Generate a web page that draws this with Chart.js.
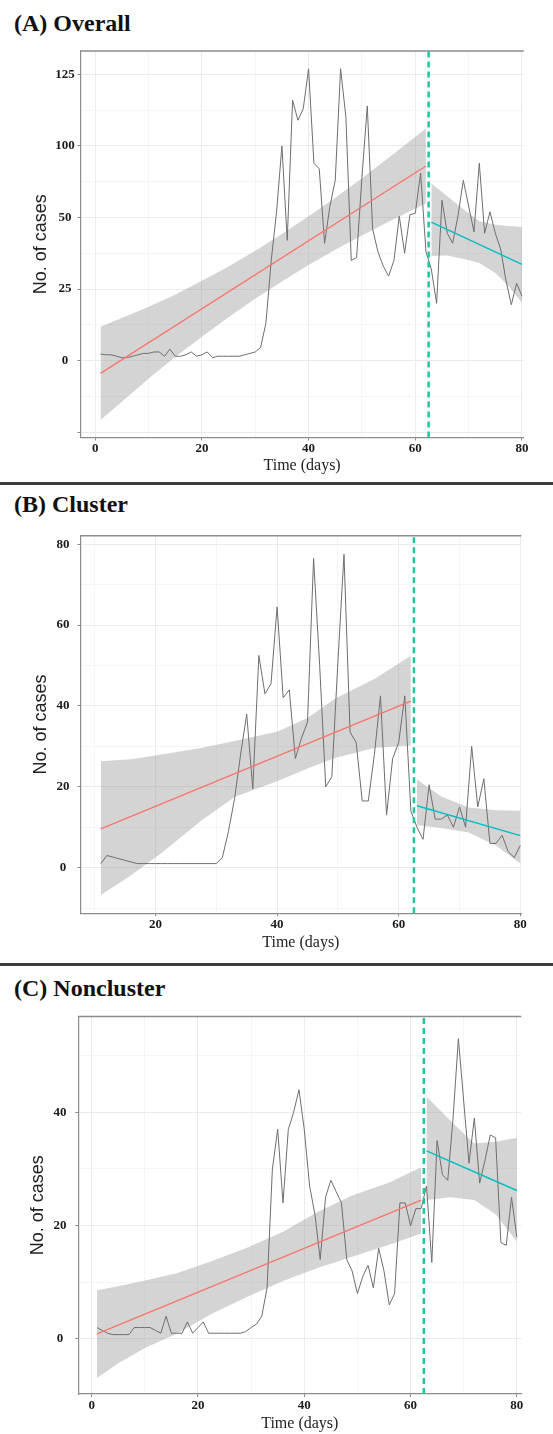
<!DOCTYPE html>
<html lang="en">
<head>
  <meta charset="UTF-8" />
  <title>Interrupted time series – Overall / Cluster / Noncluster</title>
  <script src="https://cdn.jsdelivr.net/npm/chart.js@4"></script>
  <style>
    body { margin: 0; background: #fff; }
    #page { position: relative; width: 553px; height: 1434px; overflow: hidden; background: #fff; }
    .panel-title {
      position: absolute; left: 14px; margin: 0;
      font: bold 24px "Liberation Serif", "Times New Roman", serif;
      line-height: 24px; color: #111; white-space: nowrap;
    }
    .rule { position: absolute; left: 0; width: 553px; height: 3px; background: #3d3d3d; }
    canvas { position: absolute; left: 0; }
  </style>
</head>
<body>
<div id="page">
  <h2 class="panel-title" style="top:11px">(A) Overall</h2>
  <canvas id="chartA" width="553" height="440" style="top:40px"></canvas>

  <div class="rule" style="top:482px"></div>
  <h2 class="panel-title" style="top:492px">(B) Cluster</h2>
  <canvas id="chartB" width="553" height="440" style="top:520px"></canvas>

  <div class="rule" style="top:963px"></div>
  <h2 class="panel-title" style="top:976px">(C) Noncluster</h2>
  <canvas id="chartC" width="553" height="434" style="top:1000px"></canvas>
</div>

<script>
// ---- data ----
const cutDay = 62.5;

// daily counts, panel A and C start on day 1, panel B on day 11
const daysA = Array.from({ length: 80 }, (_, i) => i + 1);
const daysB = daysA.slice(10);
const daysC = daysA;

const casesA = [2.3, 2, 2, 1.5, 1, 1, 1.5, 2, 2.5, 2.5,
  3, 3, 1.5, 4, 1.5, 1.5, 2, 3, 1.5, 2,
  3, 1, 1.5, 1.5, 1.5, 1.5, 1.5, 2, 2.5, 3,
  4.5, 13, 35, 52, 75, 42, 91, 84, 88, 102,
  69, 67, 41, 54, 63, 102, 85, 35, 36, 64,
  89, 46, 38, 33, 29.5, 35, 50.5, 37.5, 51, 51.5,
  65.5, 38, 32, 20, 56, 44.5, 41, 50.5, 63, 54,
  45, 69, 44.5, 52, 44.5, 39, 28, 19.5, 27, 22.5];

const casesB = [1, 3, 2.6, 2.2, 1.8, 1.4, 1, 1, 1, 1,
  1, 1, 1, 1, 1, 1, 1, 1, 1, 1,
  2.5, 9, 17, 28, 38, 19.5, 52.5, 43, 45.5, 64.5,
  42, 44, 27, 32, 36, 76.5, 50, 20, 22.5, 51,
  77.5, 33.5, 31, 16.5, 16.5, 28, 42.5, 13, 27, 31,
  42.5, 14, 10, 7, 20.5, 12, 12, 13, 10, 15,
  10, 30, 15, 22, 6, 6, 8, 4, 2.5, 5.5];

const casesC = [2, 1.5, 1, 0.75, 0.75, 0.75, 0.75, 2, 2, 2,
  2, 1.5, 1, 4, 1, 1, 1, 3, 1, 2,
  3, 1, 1, 1, 1, 1, 1, 1, 1.3, 2,
  2.6, 4, 9, 30, 37, 24, 37, 40, 44, 37,
  27, 22, 14, 25, 28, 26, 24, 14, 12, 8,
  11, 13, 9, 16, 12, 6, 8, 24, 24, 20,
  23, 23, 27, 13.5, 35, 29, 28, 39, 53, 42,
  31, 39, 27.5, 31.5, 36, 35.5, 17, 16.5, 25, 18];

// fitted segments (pre = red, post = cyan) and their confidence bands
const fitPreDaysA = [1, 62], fitPreA = [-4.5, 68];
const fitPostDaysA = [63, 80], fitPostA = [48.4, 33.6];
const bandPreDaysA = [1, 5, 10, 15, 20, 25, 30, 35, 40, 45, 50, 55, 62];
const bandPreLoA = [-20.8, -14.4, -6.4, 1.2, 8.3, 15.1, 21.6, 27.6, 33.4, 38.7, 43.7, 48.5, 54.9];
const bandPreHiA = [11.8, 14.9, 18.8, 23, 27.9, 32.9, 38.4, 44.2, 50.4, 56.9, 63.7, 70.9, 81.1];
const bandPostDaysA = [63, 66, 69.5, 72, 75, 77.5, 80];
const bandPostLoA = [36.5, 36.7, 35.3, 34.1, 30.6, 26, 20.2];
const bandPostHiA = [62, 57.4, 52.2, 48.7, 47.5, 47, 46.7];

const fitPreDaysB = [11, 62], fitPreB = [9.6, 41.2];
const fitPostDaysB = [63, 80], fitPostB = [15.3, 7.9];
const bandPreDaysB = [11, 16, 21, 27.5, 33, 40, 45, 49.5, 56, 62];
const bandPreLoB = [-6.8, -1.9, 3.6, 11.6, 17.5, 21.4, 24.5, 27.1, 29.6, 30.2];
const bandPreHiB = [26.3, 26.8, 28, 29.6, 31.3, 33.6, 37, 41.8, 46.7, 52.4];
const bandPostDaysB = [63, 67, 71.5, 76, 80];
const bandPostLoB = [10.5, 9.8, 8.7, 5.5, 1];
const bandPostHiB = [21.8, 17.6, 14.9, 14.2, 14.1];

const fitPreDaysC = [1, 62], fitPreC = [0.9, 24.5];
const fitPostDaysC = [63, 80], fitPostC = [33.2, 26.2];
const bandPreDaysC = [1, 5, 10, 16, 22.5, 29, 36, 42.5, 49, 56, 62];
const bandPreLoC = [-6.9, -4.3, -1.6, 0.9, 4.4, 7.3, 10.2, 12.5, 14.5, 16.6, 18.6];
const bandPreHiC = [8.6, 9.3, 10.3, 11.6, 13.7, 16, 18.9, 22.4, 25.3, 27.6, 30.3];
const bandPostDaysC = [63, 67.5, 72, 76, 80];
const bandPostLoC = [24.5, 25, 24.5, 22, 17.2];
const bandPostHiC = [42.8, 38.5, 34.5, 34.8, 35.5];

// tick positions and printed labels ('' = minor grid line only)
const xTicksA = [0, 10, 20, 30, 40, 50, 60, 70, 80];
const xLabelsA = ['0', '', '20', '', '40', '', '60', '', '80'];
const xTicksB = [10, 20, 30, 40, 50, 60, 70, 80];
const xLabelsB = ['', '20', '', '40', '', '60', '', '80'];
const xTicksC = xTicksA, xLabelsC = xLabelsA;

const yTicksA = [-25, -12.5, 0, 12.5, 25, 37.5, 50, 62.5, 75, 87.5, 100];
const yLabelsA = [' ', '', '0', '', '25', '', '50', '', '100', '', '125'];
const yTicksB = [-10, 0, 10, 20, 30, 40, 50, 60, 70, 80];
const yLabelsB = ['', '0', '', '20', '', '40', '', '60', '', '80'];
const yTicksC = [0, 10, 20, 30, 40, 50];
const yLabelsC = ['0', '', '20', '', '40', ''];

// ---- styles ----
const SERIF = '"Liberation Serif", "Times New Roman", serif';
const SANS = '"Liberation Sans", Arial, sans-serif';
const BAND = 'rgba(153,153,153,0.42)';
const RED = '#F8766D', CYAN = '#00BFC4', CUT = '#1FC6A0';
const AXIS = '#8c8c8c', GRID_MAJOR = '#EBEBEB', GRID_MINOR = '#F5F5F5';
const NONE = 'rgba(0,0,0,0)';

const pts = (xs, ys) => ys.map((y, i) => ({ x: xs[i], y }));

const topEdge = {
  id: 'topEdge',
  beforeDatasetsDraw(chart) {
    const { ctx, chartArea: a } = chart;
    ctx.save();
    ctx.strokeStyle = AXIS;
    ctx.lineWidth = 1.5;
    ctx.beginPath();
    ctx.moveTo(a.left, a.top);
    ctx.lineTo(a.right, a.top);
    ctx.stroke();
    ctx.restore();
  }
};

function drawPanel(id, p) {
  const flat = { pointRadius: 0, borderColor: NONE, borderWidth: 0, order: 5 };
  const datasets = [
    { ...flat, data: pts(p.bandPreDays, p.bandPreHi), fill: '+1', backgroundColor: BAND },
    { ...flat, data: pts(p.bandPreDays, p.bandPreLo), fill: false },
    { ...flat, data: pts(p.bandPostDays, p.bandPostHi), fill: '+1', backgroundColor: BAND },
    { ...flat, data: pts(p.bandPostDays, p.bandPostLo), fill: false },
    { data: pts(p.days, p.cases), borderColor: '#6e6e6e', borderWidth: 1, pointRadius: 0, tension: 0, fill: false, order: 4 },
    { data: pts(p.fitPreDays, p.fitPre), borderColor: RED, borderWidth: 1.4, pointRadius: 0, fill: false, order: 3 },
    { data: pts(p.fitPostDays, p.fitPost), borderColor: CYAN, borderWidth: 1.4, pointRadius: 0, fill: false, order: 3 },
    { data: pts([cutDay, cutDay], [p.yMin, p.yMax]), borderColor: CUT, borderWidth: 2.5, borderDash: [6, 4], pointRadius: 0, fill: false, order: 1 }
  ];

  const tickFont = { family: SERIF, weight: 'bold', size: 13 };

  new Chart(document.getElementById(id), {
    type: 'line',
    data: { datasets },
    plugins: [topEdge],
    options: {
      responsive: false,
      animation: false,
      devicePixelRatio: 1,
      events: [],
      layout: { padding: { top: p.padTop, right: p.padRight, left: 0, bottom: 0 } },
      plugins: { legend: { display: false }, tooltip: { enabled: false } },
      scales: {
        x: {
          type: 'linear', min: p.xMin, max: p.xMax,
          afterBuildTicks: s => { s.ticks = p.xTicks.map(v => ({ value: v })); },
          afterFit: s => { s.height = p.xAxisH; },
          grid: {
            color: c => p.xLabels[p.xTicks.indexOf(c.tick.value)] ? GRID_MAJOR : GRID_MINOR,
            tickColor: c => p.xLabels[p.xTicks.indexOf(c.tick.value)] ? AXIS : NONE,
            tickLength: 3, lineWidth: 1
          },
          border: { color: AXIS, width: 1.2 },
          ticks: {
            autoSkip: false, maxRotation: 0, padding: p.xTickPad,
            font: tickFont, color: '#1a1a1a',
            callback: (v, i) => p.xLabels[i]
          },
          title: {
            display: true, text: 'Time (days)', color: '#222',
            font: { family: SERIF, size: 16 },
            padding: { top: 0, bottom: p.xTitlePad }
          }
        },
        y: {
          type: 'linear', min: p.yMin, max: p.yMax,
          afterBuildTicks: s => { s.ticks = p.yTicks.map(v => ({ value: v })); },
          afterFit: s => { s.width = p.yAxisW; },
          grid: {
            color: c => p.yLabels[p.yTicks.indexOf(c.tick.value)] ? GRID_MAJOR : GRID_MINOR,
            tickColor: c => p.yLabels[p.yTicks.indexOf(c.tick.value)] ? AXIS : NONE,
            tickLength: 3, lineWidth: 1
          },
          border: { color: AXIS, width: 1.2 },
          ticks: {
            autoSkip: false, crossAlign: 'center', padding: p.yTickPad,
            font: tickFont, color: '#1a1a1a',
            callback: (v, i) => p.yLabels[i]
          },
          title: {
            display: true, text: 'No. of cases', color: '#222',
            font: { family: SANS, size: 18 },
            padding: { top: p.yTitlePad, bottom: 0 }
          }
        }
      }
    }
  });
}

drawPanel('chartA', {
  days: daysA, cases: casesA,
  fitPreDays: fitPreDaysA, fitPre: fitPreA, fitPostDays: fitPostDaysA, fitPost: fitPostA,
  bandPreDays: bandPreDaysA, bandPreLo: bandPreLoA, bandPreHi: bandPreHiA,
  bandPostDays: bandPostDaysA, bandPostLo: bandPostLoA, bandPostHi: bandPostHiA,
  xTicks: xTicksA, xLabels: xLabelsA, yTicks: yTicksA, yLabels: yLabelsA,
  xMin: -2.77, xMax: 80.34, yMin: -26.9, yMax: 108.2,
  padTop: 11, padRight: 29.2, yAxisW: 80.4, xAxisH: 42.5,
  xTickPad: 0, xTitlePad: 4.4, yTickPad: 2.7, yTitlePad: 30.7
});

drawPanel('chartB', {
  days: daysB, cases: casesB,
  fitPreDays: fitPreDaysB, fitPre: fitPreB, fitPostDays: fitPostDaysB, fitPost: fitPostB,
  bandPreDays: bandPreDaysB, bandPreLo: bandPreLoB, bandPreHi: bandPreHiB,
  bandPostDays: bandPostDaysB, bandPostLo: bandPostLoB, bandPostHi: bandPostHiB,
  xTicks: xTicksB, xLabels: xLabelsB, yTicks: yTicksB, yLabels: yLabelsB,
  xMin: 7.65, xMax: 80.16, yMin: -11.3, yMax: 82.1,
  padTop: 12.3, padRight: 31.7, yAxisW: 80.4, xAxisH: 46.7,
  xTickPad: 0.9, xTitlePad: 7.4, yTickPad: 8, yTitlePad: 30.2
});

drawPanel('chartC', {
  days: daysC, cases: casesC,
  fitPreDays: fitPreDaysC, fitPre: fitPreC, fitPostDays: fitPostDaysC, fitPost: fitPostC,
  bandPreDays: bandPreDaysC, bandPreLo: bandPreLoC, bandPreHi: bandPreHiC,
  bandPostDays: bandPostDaysC, bandPostLo: bandPostLoC, bandPostHi: bandPostHiC,
  xTicks: xTicksC, xLabels: xLabelsC, yTicks: yTicksC, yLabels: yLabelsC,
  xMin: -2.52, xMax: 80.84, yMin: -9.73, yMax: 56.9,
  padTop: 12.7, padRight: 31.7, yAxisW: 78.3, xAxisH: 40,
  xTickPad: 1.2, xTitlePad: 1.1, yTickPad: 8.8, yTitlePad: 27.7
});
</script>
</body>
</html>
